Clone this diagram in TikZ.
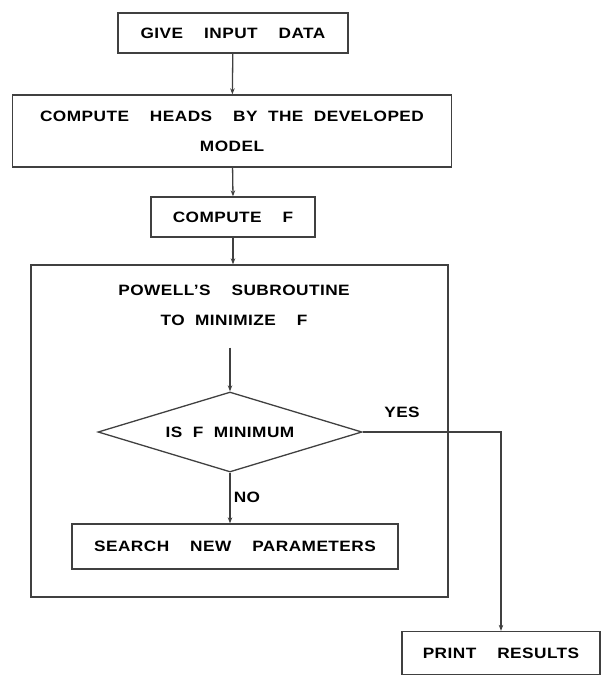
\documentclass[tikz,border=0pt]{standalone}
\usepackage{fontspec}
\setmainfont{Liberation Sans}[FakeStretch=1.15,LetterSpace=3,WordSpace=2]
\usetikzlibrary{shapes.geometric,arrows.meta}
\tikzset{
  txt/.style={font=\fontsize{15}{30}\selectfont\bfseries, inner sep=0pt},
  box/.style={txt, draw=black!75, line width=1.3pt},
  flow/.style={draw=black!75, line width=1.3pt, -{Stealth[length=6pt,width=4.5pt]}}
}
\begin{document}
\begin{tikzpicture}[x=1pt,y=-1pt]
    \useasboundingbox (0,0) rectangle (600,676);
    \node[box, minimum width=230pt, minimum height=40pt] (input) at (233,33) {GIVE~ INPUT~ DATA};
    \node[box, minimum width=439pt, minimum height=72pt, align=center] (heads) at (232,131) {COMPUTE~ HEADS~ BY THE DEVELOPED\\MODEL};
    \node[box, minimum width=164pt, minimum height=40pt] (computeF) at (233,217) {COMPUTE~ F};
    \node[box, minimum width=417pt, minimum height=332pt] (powell) at (239.5,431) {};
    \node[txt, align=center] (title) at (234,305) {POWELL'S~ SUBROUTINE\\TO MINIMIZE~ F};
    \node[box, shape=diamond, aspect=3.3, minimum width=264pt, minimum height=80pt] (test) at (230,432) {IS F MINIMUM};
    \node[box, minimum width=326pt, minimum height=45pt] (search) at (235,546.5) {SEARCH~ NEW~ PARAMETERS};
    \node[box, minimum width=198pt, minimum height=43pt] (print) at (501,653) {PRINT~ RESULTS};
    \node[txt] (yes) at (402,412) {YES};
    \node[txt] (no) at (247,497) {NO};
    \draw[flow] (input) -- (heads);
    \draw[flow] (heads) -- (input.south |- computeF.north);
    \draw[flow] (computeF) -- (computeF.south |- powell.north);
    \draw[flow] ([yshift=-22pt]title.south -| test.north) -- (test);
    \draw[flow] (test) -- (test.south |- search.north);
    \draw[flow] (test.east) -| (print.north);
\end{tikzpicture}
\end{document}
